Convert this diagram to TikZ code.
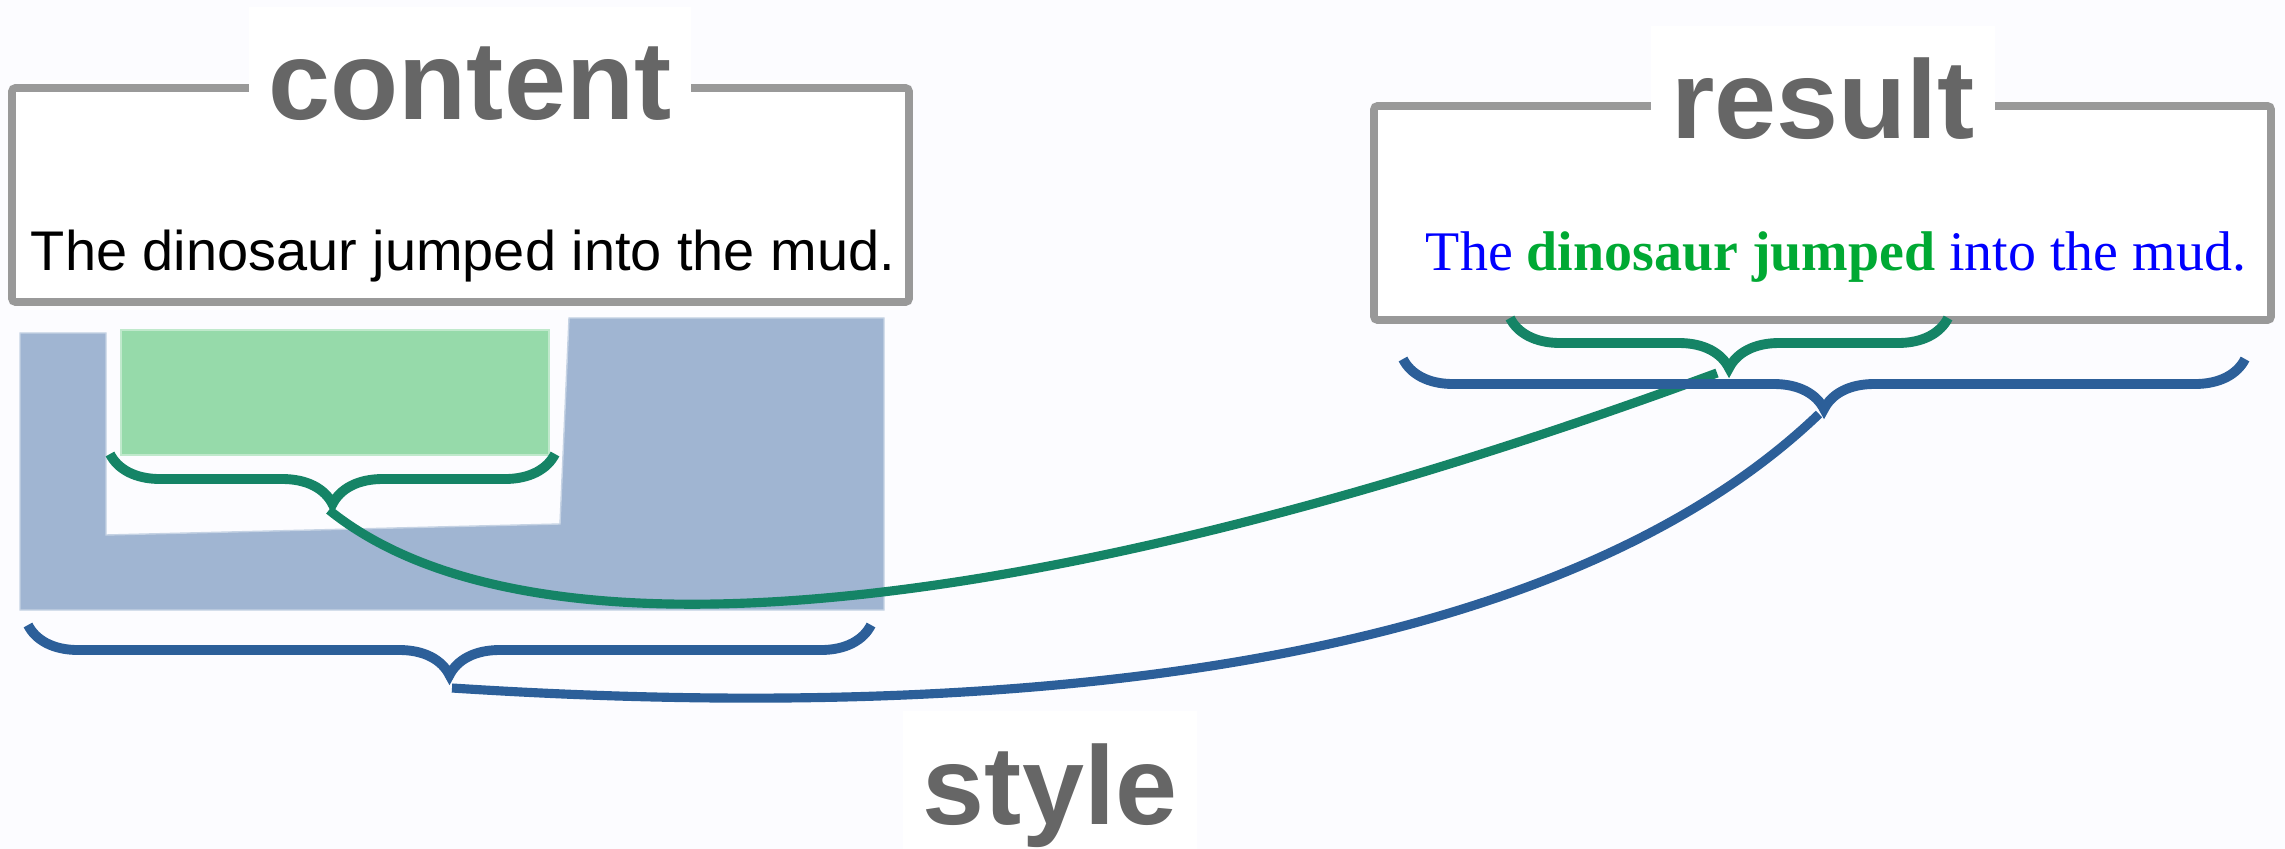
\documentclass[tikz,border=0pt]{standalone}
\usepackage{fontspec}
\newfontfamily\sansfont{Liberation Sans}
\newfontfamily\seriffont{Liberation Serif}
\usepackage{tikz}
\usetikzlibrary{positioning,decorations.pathreplacing}

\definecolor{pagebg}{HTML}{FCFCFF}
\definecolor{framegray}{HTML}{999999}
\definecolor{titlegray}{HTML}{666666}
\definecolor{stylblue}{HTML}{2C5F99}
\definecolor{contgreen}{HTML}{158466}
\definecolor{areablue}{HTML}{A0B5D2}
\definecolor{areagreen}{HTML}{96DAAA}
\definecolor{resblue}{HTML}{0000FF}
\definecolor{resgreen}{HTML}{00A933}

\begin{document}
\begin{tikzpicture}[
    x=0.01cm, y=-0.01cm,
    panel/.style={draw=framegray, fill=white, line width=2.2pt, rounded corners=1pt},
    heading/.style={font=\sansfont\bfseries\fontsize{31.7}{38}\selectfont,
                    text=titlegray, fill=white, inner xsep=0.2cm, inner ysep=0pt,
                    text height=1.13cm, text depth=0.3cm, anchor=base},
    sentence/.style={inner sep=0pt, anchor=base},
    curly/.style={decorate, decoration={brace, mirror, amplitude=0.5cm},
                  line width=2.8pt},
    link/.style={line width=2.6pt},
  ]
  \fill[pagebg] (0,0) rectangle (2285,849);
  \useasboundingbox (0,0) rectangle (2285,849);

  % parts of the page that the styles reach
  \filldraw[fill=areablue, draw=areablue!60!white, line width=0.4pt]
    (20,333) -- (106,333) -- (106,535) -- (560,524) -- (569,318)
    -- (884,318) -- (884,610) -- (20,610) -- cycle;
  \filldraw[fill=areagreen, draw=areagreen!60!white, line width=0.4pt]
    (121,330) rectangle (549,455);

  % the two panels and their headings
  \draw[panel] (12,88) rectangle (909,302);
  \draw[panel] (1374,106) rectangle (2271,320);
  \node[heading] (content) at (470,120) {content};
  \node[heading] (result) at (1823,139) {result};
  \node[heading] (style) at (1050,824) {style};

  \node[sentence, font=\sansfont\fontsize{15.9}{19}\selectfont] (plain)
    at (463,271) {The dinosaur jumped into the mud.};
  \node[sentence, font=\seriffont\fontsize{15.9}{19}\selectfont, text=resblue] (styled)
    at (1836,271) {The {\bfseries\color{resgreen}dinosaur jumped} into the mud.};

  % brace ends and the points where the links start
  \coordinate (cgL) at (110,454);  \coordinate (cgR) at (555,454);
  \coordinate (csL) at (28,625);   \coordinate (csR) at (871,625);
  \coordinate (rgL) at (1510,318); \coordinate (rgR) at (1948,318);
  \coordinate (rsL) at (1403,359); \coordinate (rsR) at (2245,359);
  \coordinate (cgtip) at (329,510);
  \coordinate (cstip) at (452,688);
  \coordinate (rgtip) at (1717,373);
  \coordinate (rstip) at (1819,414);

  % links between matching braces
  \draw[link, contgreen] (cgtip) .. controls +(213,172) and +(-637,235) .. (rgtip);
  \draw[link, stylblue] (cstip) .. controls +(648,42) and +(-238,228) .. (rstip);

  \draw[curly, contgreen] (cgL) -- (cgR);
  \draw[curly, stylblue] (csL) -- (csR);
  \draw[curly, contgreen] (rgL) -- (rgR);
  \draw[curly, stylblue] (rsL) -- (rsR);
\end{tikzpicture}
\end{document}
